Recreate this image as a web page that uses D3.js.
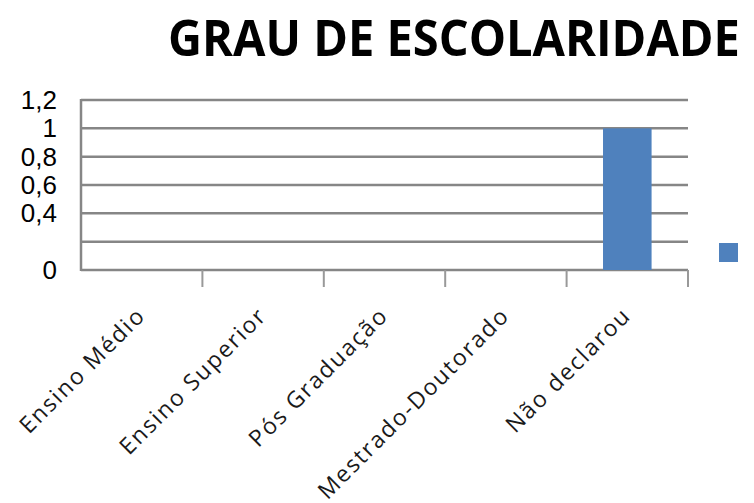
<!DOCTYPE html>
<html><head><meta charset="utf-8">
<script src="https://cdn.jsdelivr.net/npm/d3@7"></script>
<style>body{margin:0;background:#fff}svg{display:block}</style>
</head><body>
<svg id="c" width="754" height="503"></svg>
<script>
const title = "GRAU DE ESCOLARIDADE";
const categories = ["Ensino Médio","Ensino Superior","Pós Graduação","Mestrado-Doutorado","Não declarou"];
const values = [0,0,0,0,1];
const yTicks = [0,0.2,0.4,0.6,0.8,1,1.2];
const yTickLabels = ["0","","0,4","0,6","0,8","1","1,2"];

const svg = d3.select("#c");
const m = {left:81, right:688, top:100, bottom:270};
const x = d3.scaleBand().domain(categories).range([m.left, m.right]).paddingInner(0).paddingOuter(0);
const y = d3.scaleLinear().domain([0,1.2]).range([m.bottom, m.top]);
const grid = "#868686";

const tg = svg.append("g");
const tt = tg.append("text").attr("x",0).attr("y",0).attr("font-family","'Open Sans',sans-serif")
  .attr("font-weight","bold").attr("font-size",50).attr("fill","#000").text(title);
const natural = tt.node().getComputedTextLength();
tg.attr("transform",`translate(168,56) scale(${572/natural},1)`);

// gridlines
svg.append("g").selectAll("line").data(yTicks).join("line")
  .attr("x1",m.left).attr("x2",m.right).attr("y1",d=>y(d)).attr("y2",d=>y(d))
  .attr("stroke",grid).attr("stroke-width",2.5);
// left axis line
svg.append("line").attr("x1",m.left).attr("x2",m.left).attr("y1",y(1.2)-1).attr("y2",y(0)+1)
  .attr("stroke",grid).attr("stroke-width",2.5);
// category ticks
const bounds = categories.map(c=>x(c)+x.bandwidth());
svg.append("g").selectAll("line").data(bounds).join("line")
  .attr("x1",d=>d).attr("x2",d=>d).attr("y1",y(0)).attr("y2",y(0)+17)
  .attr("stroke","#999").attr("stroke-width",2);

// y labels
svg.append("g").selectAll("text").data(yTicks).join("text")
  .attr("x",57).attr("y",d=>y(d)+9).attr("text-anchor","end")
  .attr("font-family","'Liberation Sans',Arial,sans-serif").attr("font-size",26).attr("fill","#000")
  .text((d,i)=>yTickLabels[i]);

// bars
const bw = x.bandwidth()*0.4;
svg.append("g").selectAll("rect").data(categories).join("rect")
  .attr("x",c=>x(c)+x.bandwidth()/2-bw/2).attr("width",bw)
  .attr("y",(c,i)=>y(values[i])).attr("height",(c,i)=>y(0)-y(values[i]))
  .attr("fill","#4f81bd");

// x labels
svg.append("g").selectAll("text").data(categories).join("text")
  .attr("transform",c=>`translate(${x(c)+x.bandwidth()/2+5},${y(0)+47}) rotate(-45)`)
  .attr("text-anchor","end").attr("font-family","'Open Sans',sans-serif").attr("font-size",23)
  .attr("letter-spacing",1.8).attr("fill","#1a1a1a")
  .text(c=>c);

// legend
svg.append("rect").attr("x",719).attr("y",243).attr("width",19).attr("height",19).attr("fill","#4f81bd");
</script>
</body></html>
